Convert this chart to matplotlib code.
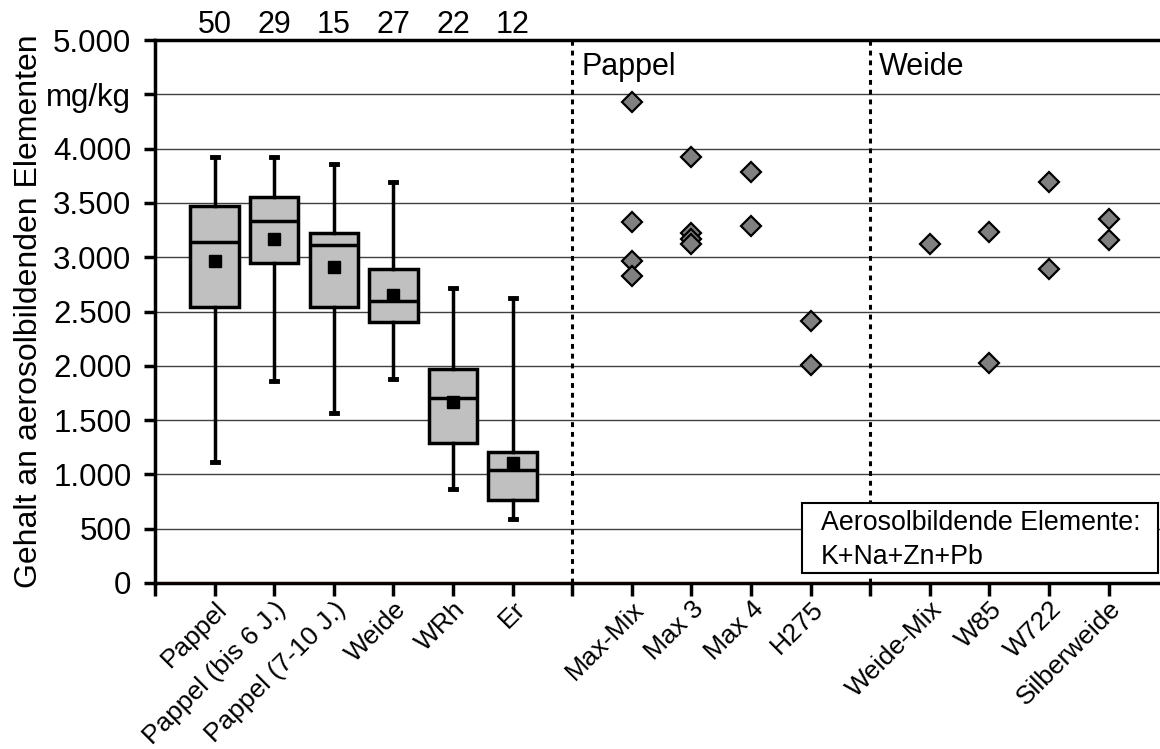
import matplotlib
matplotlib.use("Agg")
from matplotlib import pyplot as plt
from matplotlib.patches import Rectangle

plt.rcParams['font.family'] = ['Liberation Sans', 'DejaVu Sans']

# Box plot groups (mg/kg)
box_labels = ["Pappel", "Pappel (bis 6 J.)", "Pappel (7-10 J.)", "Weide", "WRh", "Er"]
box_n = [50, 29, 15, 27, 22, 12]
whis_lo = [1110, 1860, 1565, 1880, 870, 590]
q1 = [2540, 2945, 2540, 2400, 1290, 760]
med = [3140, 3330, 3110, 2600, 1700, 1045]
q3 = [3475, 3550, 3220, 2895, 1975, 1210]
whis_hi = [3920, 3920, 3855, 3690, 2715, 2620]
means = [2965, 3170, 2910, 2655, 1665, 1108]

# Single values per clone
pappel_clones = ["Max-Mix", "Max 3", "Max 4", "H275"]
pappel_values = [[4430, 3325, 2965, 2830], [3920, 3220, 3170, 3120],
                 [3785, 3290], [2415, 2005]]
weide_clones = ["Weide-Mix", "W85", "W722", "Silberweide"]
weide_values = [[3125], [3235, 2025], [3690, 2890], [3350, 3155]]

yticks = [0, 500, 1000, 1500, 2000, 2500, 3000, 3500, 4000, 4500, 5000]
yticklabels = ["0", "500", "1.000", "1.500", "2.000", "2.500", "3.000",
               "3.500", "4.000", "mg/kg", "5.000"]

fig = plt.figure(figsize=(11.6, 7.49), dpi=100)
ax = fig.add_axes([155 / 1160, 166 / 749, 1 - 155 / 1160, 543 / 749])

# positions: boxes 1..6, separator 7, pappel 8..11, separator 12, weide 13..16
box_pos = list(range(1, 7))
pappel_pos = list(range(8, 12))
weide_pos = list(range(13, 17))
xmax = (1160 - 155) / 59.6

stats = []
for i in range(len(box_labels)):
    stats.append(dict(label=box_labels[i], whislo=whis_lo[i], q1=q1[i], med=med[i],
                      q3=q3[i], whishi=whis_hi[i], mean=means[i], fliers=[]))

ax.bxp(stats, positions=box_pos, widths=0.81, patch_artist=True, showmeans=True,
       capwidths=0.1,
       boxprops=dict(facecolor="#c0c0c0", edgecolor="black", linewidth=2.5),
       medianprops=dict(color="black", linewidth=2.5),
       whiskerprops=dict(color="black", linewidth=2.5),
       capprops=dict(color="black", linewidth=3.5),
       meanprops=dict(marker="s", markerfacecolor="black", markeredgecolor="black",
                      markersize=9))

for pos, vals in zip(pappel_pos + weide_pos, pappel_values + weide_values):
    ax.plot([pos] * len(vals), vals, ls="none", marker="D", markersize=10,
            markerfacecolor="#808080", markeredgecolor="black", markeredgewidth=1.6,
            zorder=4)

for x in (7, 12):
    ax.axvline(x, color="black", linewidth=2.2, linestyle=(0, (1.6, 1.6)), zorder=3)

ax.set_xlim(0, xmax)
ax.set_ylim(0, 5000)
ax.set_yticks(yticks)
ax.set_yticklabels(yticklabels, fontsize=22.5)
ax.yaxis.grid(True, color="#404040", linewidth=1)
ax.set_axisbelow(True)

ax.set_xticks(range(0, 17))
xlabels = [""] + box_labels + [""] + pappel_clones + [""] + weide_clones
ax.set_xticklabels(xlabels, rotation=45, ha="right", rotation_mode="anchor",
                   fontsize=19)
ax.tick_params(axis="x", direction="out", length=9, width=2.5, pad=1)
ax.tick_params(axis="y", direction="out", length=8, width=2.5, pad=9)

for side in ("left", "bottom", "top"):
    ax.spines[side].set_linewidth(2.5)
ax.spines["right"].set_visible(False)
ax.axhline(0, xmin=0, xmax=15 / xmax, color="#800000", linewidth=1, zorder=5)

ax.set_ylabel("Gehalt an aerosolbildenden Elementen", fontsize=23, labelpad=2)

for pos, n in zip(box_pos, box_n):
    ax.text(pos, 5000, str(n), ha="center", va="bottom", fontsize=22,
            clip_on=False)

ax.text(7.15, 4750, "Pappel", ha="left", va="center", fontsize=22)
ax.text(12.15, 4750, "Weide", ha="left", va="center", fontsize=22)

# note box
ax.add_patch(Rectangle((10.85, 92), 16.83 - 10.85, 737 - 92, facecolor="white",
                       edgecolor="black", linewidth=1.5, zorder=6))
ax.text(11.17, 552, "Aerosolbildende Elemente:", ha="left", va="center",
        fontsize=19.3, zorder=7)
ax.text(11.17, 239, "K+Na+Zn+Pb", ha="left", va="center", fontsize=19.3, zorder=7)

fig.savefig("out.png", dpi=100)
